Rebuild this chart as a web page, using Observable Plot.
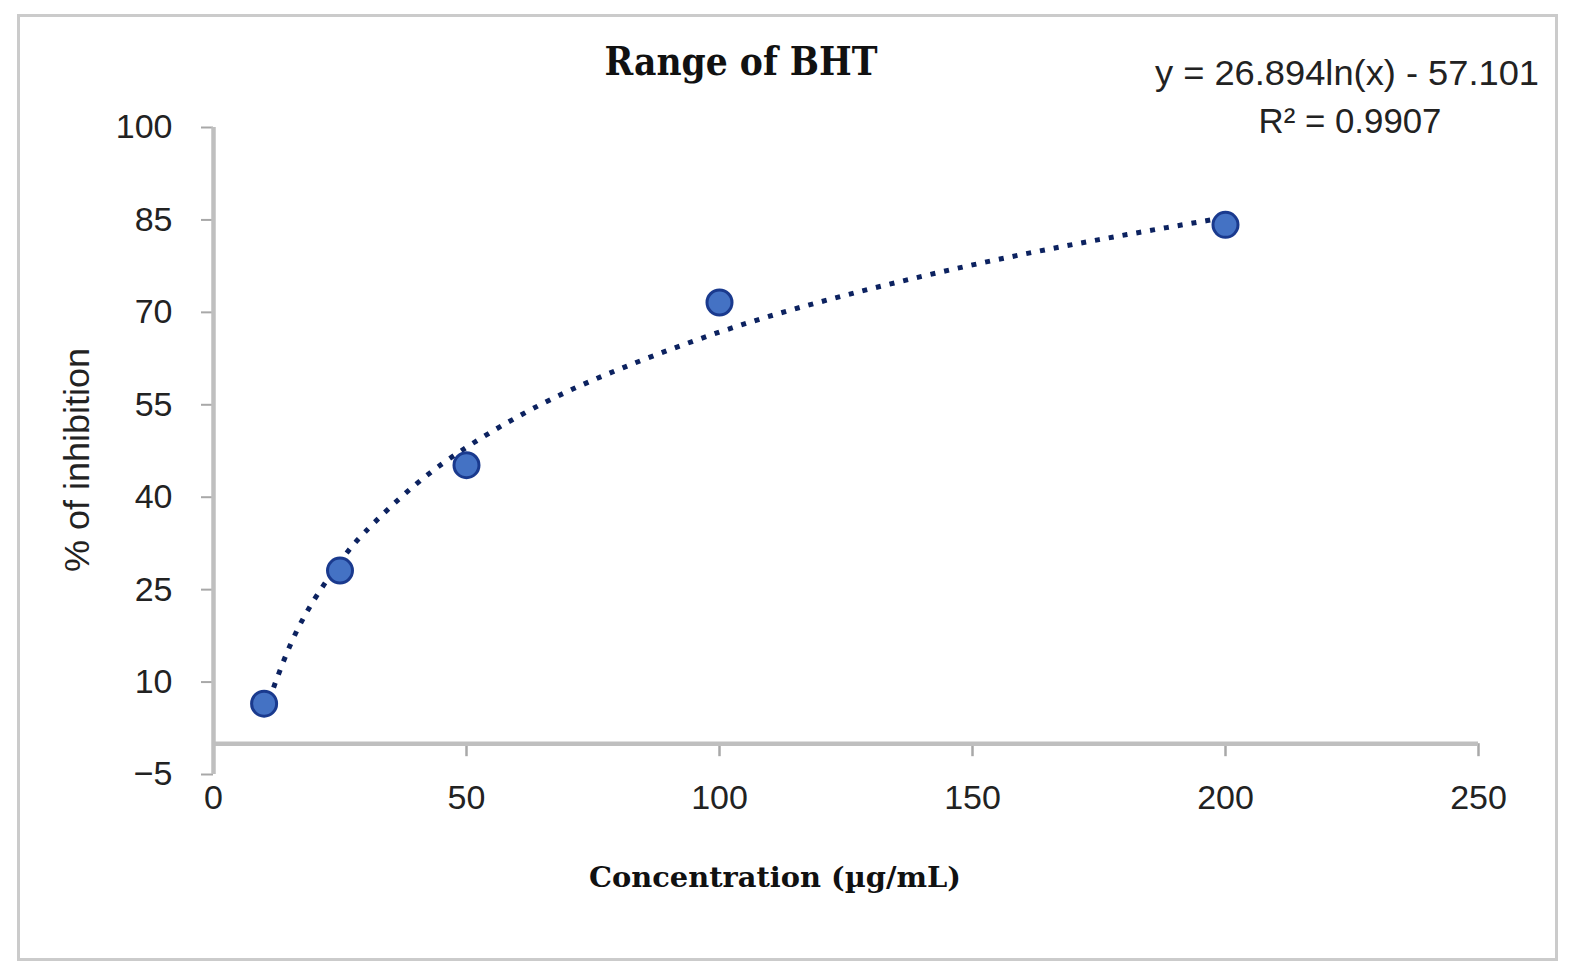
<!DOCTYPE html>
<html>
<head>
<meta charset="utf-8">
<script src="https://cdn.jsdelivr.net/npm/d3@7"></script>
<script src="https://cdn.jsdelivr.net/npm/@observablehq/plot@0.6"></script>
<style>
  html, body { margin: 0; padding: 0; background: #fff; }
  #page { position: relative; width: 1584px; height: 979px; overflow: hidden; background: #fff; }
  #frame { position: absolute; left: 17px; top: 14px; width: 1541px; height: 947px; box-sizing: border-box; border: 3px solid #cbcbcb; }
  #chart { position: absolute; left: 0; top: 0; }
  #notes { position: absolute; left: 0; top: 0; pointer-events: none; }
</style>
</head>
<body>
<div id="page">
  <div id="frame"></div>
  <div id="chart"></div>
  <svg id="notes" width="1584" height="979" xmlns="http://www.w3.org/2000/svg">
    <text x="741" y="75" text-anchor="middle" font-family="DejaVu Serif" font-weight="bold" font-size="40" fill="#111" textLength="273" lengthAdjust="spacingAndGlyphs">Range of BHT</text>
    <text x="1347" y="85" text-anchor="middle" font-family="Liberation Sans" font-size="35" fill="#222" textLength="384" lengthAdjust="spacingAndGlyphs">y = 26.894ln(x) - 57.101</text>
    <text x="1350" y="133" text-anchor="middle" font-family="Liberation Sans" font-size="35" fill="#222" textLength="183" lengthAdjust="spacingAndGlyphs">R² = 0.9907</text>
    <text x="775" y="887" text-anchor="middle" font-family="DejaVu Serif" font-weight="bold" font-size="27" fill="#111" textLength="372" lengthAdjust="spacingAndGlyphs">Concentration (µg/mL)</text>
    <text transform="translate(89,460) rotate(-90)" text-anchor="middle" font-family="Liberation Sans" font-size="35" fill="#222" textLength="224" lengthAdjust="spacingAndGlyphs">% of inhibition</text>
  </svg>
</div>
<script>
// Measured data points (concentration in µg/mL, % inhibition)
const concentration = [10, 25, 50, 100, 200];
const inhibition = [6.5, 28.1, 45.2, 71.6, 84.2];

// Logarithmic trendline
const trendConcentration = [10, 15, 20, 25, 30, 40, 50, 60, 75, 100, 125, 150, 175, 200];
const trendInhibition = [4.8, 15.7, 23.5, 29.5, 34.4, 42.1, 48.1, 53.0, 59.0, 66.8, 72.8, 77.7, 81.8, 85.4];

// Tick labels
const xTicks = [0, 50, 100, 150, 200, 250];
const yTicks = [-5, 10, 25, 40, 55, 70, 85, 100];

const points = concentration.map((c, i) => ({conc: c, inh: inhibition[i]}));
const trend = trendConcentration.map((c, i) => ({conc: c, inh: trendInhibition[i]}));

const axisColor = "#bfbfbf";
const tickColor = "#a8a8a8";

const chart = Plot.plot({
  width: 1584,
  height: 979,
  marginLeft: 213,
  marginRight: 106,
  marginTop: 127,
  marginBottom: 205,
  style: {background: "transparent", fontFamily: "Liberation Sans"},
  x: {domain: [0, 250]},
  y: {domain: [-5, 100]},
  marks: [
    Plot.axisY({ticks: yTicks, tickSize: 12, tickPadding: 29, fontSize: 34, stroke: tickColor, strokeWidth: 2, fill: "#222", label: null, tickFormat: d => d < 0 ? "\u2212" + Math.abs(d) : String(d)}),
    Plot.axisX({ticks: xTicks, tickSize: 0, tickPadding: 10, fontSize: 34, fill: "#222", label: null}),
    Plot.ruleX(xTicks, {x: d => d, y1: 0, y2: 0, insetBottom: -13, stroke: tickColor, strokeWidth: 2.5}),
    Plot.ruleY([0], {stroke: axisColor, strokeWidth: 4.5}),
    Plot.ruleX([0], {stroke: axisColor, strokeWidth: 4.5}),
    Plot.line(trend, {x: "conc", y: "inh", curve: "natural", stroke: "#0c2260", strokeWidth: 5, strokeDasharray: "5,9", strokeLinecap: "butt"}),
    Plot.dot(points, {x: "conc", y: "inh", r: 12.5, fill: "#4472C4", stroke: "#1a3a8e", strokeWidth: 3})
  ]
});
document.getElementById("chart").appendChild(chart);
</script>
</body>
</html>
